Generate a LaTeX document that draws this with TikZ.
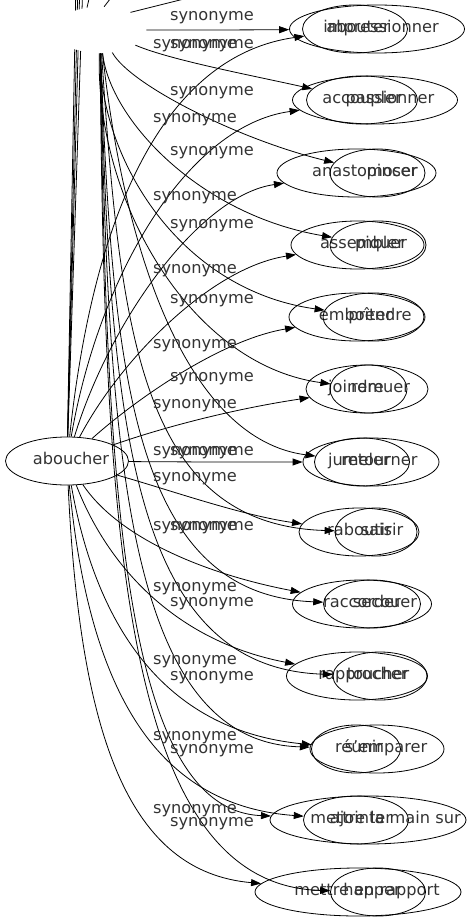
\documentclass[tikz,border=0pt]{standalone}
\usepackage{fontspec}
\setmainfont{DejaVu Sans}
\usetikzlibrary{arrows.meta, shapes.geometric}
\tikzset{lemma/.style={draw, ellipse, minimum height=48pt, inner sep=0pt}}
\tikzset{wordtext/.style={inner sep=0pt, text height=11.5pt, text depth=3.8pt, text=black!80, font=\fontsize{16.2}{19}\selectfont}}
\tikzset{synedge/.style={-{Triangle[length=10pt, width=7pt]}}}
\tikzset{veil/.style={ellipse, fill=white, minimum width=92pt, minimum height=46pt, inner sep=0pt}}

\begin{document}
\begin{tikzpicture}[x=1pt, y=-1pt, line width=0.8pt]
    \useasboundingbox (0,0) rectangle (466,923);
    \foreach \id/\cx/\cy/\ew/\tx/\lbl in {
        abouter/355/29/105/358/abouter, impressionner/377/29/175/381/impressionner,
        accoupler/362/100/111/362/accoupler, passionner/375/100/165/390/passionner,
        anastomoser/356.5/173/159/365/anastomoser, pincer/377.5/173/95/392/pincer,
        assembler/357.5/245/133/362/assembler, piquer/378/245/96/381/piquer,
        emboiter/357/317/136/355.5/emboîter, prendre/373.5/317/101/380/prendre,
        joindre/367/389/122/356/joindre, remuer/368.5/389/77/380.5/remuer,
        jumeler/371/462/136/359/jumeler, retourner/362/462/95/379.5/retourner,
        raboutir/359/532/120/359.5/raboutir, saisir/376/532/82/382/saisir,
        raccorder/362/604/139/362/raccorder, secouer/372/604/97/385/secouer,
        rapprocher/357/676/141/363/rapprocher, toucher/380/676/94/378/toucher,
        reunir/356/749/89/359/réunir, semparer/377/749/134/386/s'emparer,
        ajointer/356/820/105/361/ajointer, mainsur/368/820/196/385.5/mettre la main sur,
        rapport/358/892/206/367/mettre en rapport, happer/378/892/95/372/happer} {
        \node[lemma, minimum width=\ew] (\id) at (\cx,\cy) {};
        \node[wordtext] (\id-t) at (\tx,\cy) {\lbl};
    }
    \node[lemma, minimum width=123] (aboucher) at (67,461) {};
    \node[wordtext] (aboucher-t) at (71,461) {aboucher};
    \foreach \dst/\ax/\ay/\bx/\by in {
        abouter/95/200/170/55, passionner/100/270/190/125,
        anastomoser/110/320/200/195, assembler/120/360/210/268,
        emboiter/135/400/220/340, joindre/170/425/240/408,
        jumeler/180/462/240/462, raboutir/170/490/240/515,
        raccorder/120/540/210/575, rapprocher/105/560/170/640,
        reunir/95/620/160/730, ajointer/88/680/150/805,
        rapport/80/740/130/872} {
        \draw[synedge] (aboucher) .. controls (\ax,\ay) and (\bx,\by) .. (\dst);
    }
    \foreach \i/\ux in {1/76, 2/78, 3/80, 4/83} {
        \coordinate (up\i) at (\ux,-20);
        \draw (aboucher) -- (up\i);
    }
    \node[veil] (hub) at (100,30) {};
    \foreach \dst/\ax/\ay/\bx/\by in {
        impressionner/180/30/240/30, accoupler/170/60/250/75,
        pincer/130/85/240/140, piquer/110/120/200/215,
        prendre/100/160/180/290, remuer/95/200/190/365,
        retourner/125/260/190/440, saisir/120/330/140/525,
        secouer/112/380/135/595, toucher/110/420/130/668,
        semparer/108/460/128/742, mainsur/106/500/125/810,
        happer/104/540/125/885} {
        \draw[synedge] (hub) .. controls (\ax,\ay) and (\bx,\by) .. (\dst);
    }
    \coordinate (top1) at (91,-10);
    \coordinate (top2) at (114,-6);
    \coordinate (top3) at (220,-10);
    \draw (hub.120) -- (top1);
    \draw (hub.80) -- (top2);
    \draw (hub.30) -- (top3);
    \foreach \ly [count=\i] in {45, 119, 197, 270, 345, 405, 452, 478, 527, 588, 661, 737, 810}
        \node[wordtext] (left\i) at (195,\ly) {synonyme};
    \foreach \ly [count=\i] in {17, 45, 92, 152, 225, 300, 378, 452, 527, 603, 677, 750, 823}
        \node[wordtext] (right\i) at (212,\ly) {synonyme};
\end{tikzpicture}
\end{document}
